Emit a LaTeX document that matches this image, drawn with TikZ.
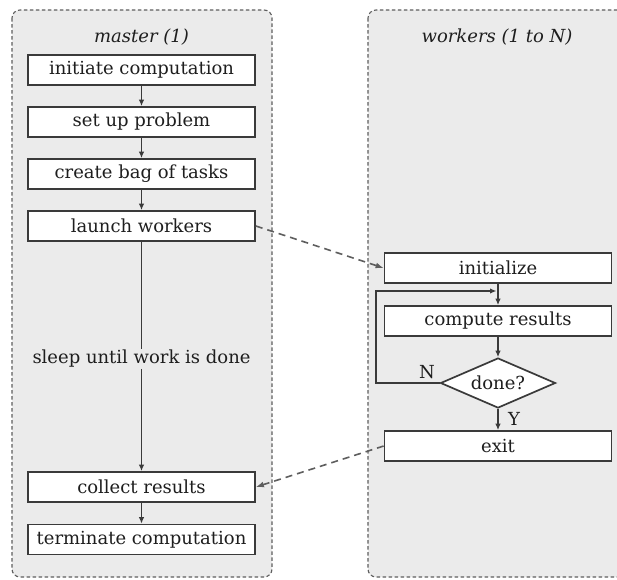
\documentclass[tikz,border=0pt]{standalone}
\usepackage{fontspec}
\setmainfont{DejaVu Serif}
\usetikzlibrary{shapes.geometric,arrows.meta}

\definecolor{panelfill}{HTML}{EBEBEB}
\definecolor{panelline}{HTML}{5E5E5E}
\definecolor{boxline}{HTML}{3A3A3A}
\definecolor{inktext}{HTML}{1E1E1E}

\tikzset{
  txt/.style={font=\fontsize{18}{21}\selectfont},
  panel/.style={draw=panelline, fill=panelfill, line width=1.1pt,
    dash pattern=on 3.5pt off 2.5pt, rounded corners=8pt},
  stepbox/.style={txt, draw=boxline, fill=white, line width=1.7pt,
    minimum width=227pt, minimum height=30pt, inner sep=0pt, text=inktext},
  decision/.style={txt, diamond, aspect=2.3, draw=boxline, fill=white,
    line width=1.7pt, minimum width=115pt, minimum height=50pt,
    inner sep=0pt, text=inktext},
  plain/.style={txt, text=inktext, inner sep=1pt},
  heading/.style={text=inktext, inner sep=1pt,
    font=\fontsize{18}{21}\selectfont\itshape},
  flow/.style={draw=boxline, line width=1.4pt, -{Latex[length=6.5pt,width=5.5pt]}},
  link/.style={draw=boxline, line width=1.4pt},
  message/.style={draw=panelline, line width=1.6pt,
    dash pattern=on 7pt off 5pt, -{Latex[length=8pt,width=6pt]}},
}

\begin{document}
\begin{tikzpicture}[x=1pt,y=-1pt]
  \clip (0,0) rectangle (617,579);
  \fill[white] (0,0) rectangle (617,579);

  % process lanes
  \draw[panel] (12,10) rectangle (272,577);
  \draw[panel] (368,10) rectangle (640,577);

  \node[heading] (mtitle) at (141.5,37) {master (1)};
  \node[heading] (wtitle) at (497,37) {workers (1 to N)};

  % master
  \node[stepbox] (init)   at (141.5,70)  {initiate computation};
  \node[stepbox] (setup)  at (141.5,122) {set up problem};
  \node[stepbox] (bag)    at (141.5,174) {create bag of tasks};
  \node[stepbox] (launch) at (141.5,226) {launch workers};
  \node[plain]   (sleep)  at (141.5,359) {sleep until work is done};
  \node[stepbox] (collect) at (141.5,487) {collect results};
  \node[stepbox] (term)   at (141.5,539.5) {terminate computation};

  % workers
  \node[stepbox] (winit)   at (498,268) {initialize};
  \node[stepbox] (compute) at (498,321) {compute results};
  \node[decision] (done)   at (498,383) {done?};
  \node[stepbox] (exit)    at (498,446) {exit};

  \draw[flow] (init) -- (setup);
  \draw[flow] (setup) -- (bag);
  \draw[flow] (bag) -- (launch);
  \draw[link] (launch) -- (sleep);
  \draw[flow] (sleep) -- (collect);
  \draw[flow] (collect) -- (term);

  \coordinate (join) at (498,291);
  \coordinate (loopcorner) at (376,291);
  \draw[flow] (winit) -- (compute);
  \draw[flow] (compute) -- (done);
  \draw[flow, shorten >=1.5pt] (done.west) -| (loopcorner) -- (join);
  \draw[flow] (done) -- (exit);
  \node[plain] (nlabel) at (427,372) {N};
  \node[plain] (ylabel) at (514,419) {Y};

  \draw[message] (launch.east) -- (winit.west);
  \draw[message] (exit.west) -- (collect.east);
\end{tikzpicture}
\end{document}
